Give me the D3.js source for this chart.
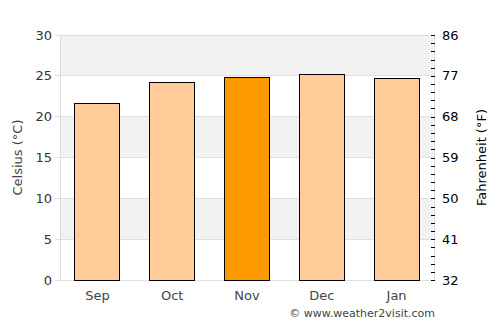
<!DOCTYPE html>
<html>
<head>
<meta charset="utf-8">
<script src="https://cdn.jsdelivr.net/npm/d3@7"></script>
<style>
  body { margin: 0; background: #fff; }
  text { font-family: "DejaVu Sans", sans-serif; }
</style>
</head>
<body>
<div id="chart"></div>
<script>
// data
const months = ["Sep", "Oct", "Nov", "Dec", "Jan"];
const tempsC = [21.6, 24.2, 24.8, 25.2, 24.7];
const highlight = "Nov";
const celsiusTicks = [0, 5, 10, 15, 20, 25, 30];
const fahrenheitTicks = [32, 41, 50, 59, 68, 77, 86];

const width = 500, height = 325;
const margin = { top: 35, right: 66, bottom: 45, left: 60 };
const innerW = width - margin.left - margin.right;
const innerH = height - margin.top - margin.bottom;

const svg = d3.select("#chart").append("svg")
  .attr("width", width).attr("height", height);

const g = svg.append("g")
  .attr("transform", `translate(${margin.left},${margin.top})`);

const x = d3.scaleBand().domain(months).range([0, innerW]).paddingInner(0.4).paddingOuter(0.2);
const y = d3.scaleLinear().domain([0, 30]).range([innerH, 0]);
const yF = d3.scaleLinear().domain([32, 86]).range([innerH, 0]);

// alternating bands
for (let i = 0; i < celsiusTicks.length - 1; i++) {
  if ((celsiusTicks.length - 2 - i) % 2 === 0) {
    g.append("rect")
      .attr("x", 0).attr("width", innerW)
      .attr("y", y(celsiusTicks[i + 1]))
      .attr("height", y(celsiusTicks[i]) - y(celsiusTicks[i + 1]))
      .attr("fill", "#f2f2f2");
  }
}

// gridlines
g.selectAll(".grid").data(celsiusTicks).enter().append("line")
  .attr("x1", -5).attr("x2", innerW)
  .attr("y1", d => y(d)).attr("y2", d => y(d))
  .attr("stroke", "#e0e0e0").attr("stroke-width", 1)
  .attr("shape-rendering", "crispEdges");

// plot border lines
g.append("line").attr("x1", 0).attr("x2", 0).attr("y1", 0).attr("y2", innerH)
  .attr("stroke", "#dddddd").attr("shape-rendering", "crispEdges");
g.append("line").attr("x1", innerW).attr("x2", innerW).attr("y1", 0).attr("y2", innerH)
  .attr("stroke", "#dddddd").attr("shape-rendering", "crispEdges");

// bars
g.selectAll(".bar").data(months).enter().append("rect")
  .attr("x", d => x(d))
  .attr("y", (d, i) => y(tempsC[i]))
  .attr("width", x.bandwidth())
  .attr("height", (d, i) => innerH - y(tempsC[i]))
  .attr("fill", d => d === highlight ? "#ff9900" : "#ffcc99")
  .attr("stroke", "#000").attr("stroke-width", 1)
  .attr("shape-rendering", "crispEdges");

// left axis labels
g.selectAll(".ylab").data(celsiusTicks).enter().append("text")
  .attr("x", -8).attr("y", d => y(d)).attr("dy", "0.35em")
  .attr("text-anchor", "end").attr("font-size", 13).attr("fill", "#333")
  .text(d => d);

// right axis: minor ticks every 1°C equivalent
const minor = d3.range(32, 86.01, 1.8);
g.selectAll(".rtick").data(minor).enter().append("line")
  .attr("x1", innerW - 3).attr("x2", innerW + 1)
  .attr("y1", d => Math.round(yF(d)) + 0.5).attr("y2", d => Math.round(yF(d)) + 0.5)
  .attr("stroke", "#000").attr("stroke-width", 1);

g.selectAll(".flab").data(fahrenheitTicks).enter().append("text")
  .attr("x", innerW + 8).attr("y", d => yF(d)).attr("dy", "0.35em")
  .attr("text-anchor", "start").attr("font-size", 13).attr("fill", "#000")
  .text(d => d);

// x labels
g.selectAll(".xlab").data(months).enter().append("text")
  .attr("x", d => x(d) + x.bandwidth() / 2).attr("y", innerH + 20)
  .attr("text-anchor", "middle").attr("font-size", 13).attr("fill", "#444")
  .text(d => d);

// axis titles
svg.append("text")
  .attr("transform", `translate(22,${margin.top + innerH / 2}) rotate(-90)`)
  .attr("text-anchor", "middle").attr("font-size", 13).attr("fill", "#444")
  .text("Celsius (°C)");
svg.append("text")
  .attr("transform", `translate(486,${margin.top + innerH / 2}) rotate(-90)`)
  .attr("text-anchor", "middle").attr("font-size", 13).attr("fill", "#000")
  .text("Fahrenheit (°F)");

// credit
svg.append("text")
  .attr("x", 435).attr("y", 317)
  .attr("text-anchor", "end").attr("font-size", 11).attr("fill", "#444")
  .text("© www.weather2visit.com");
</script>
</body>
</html>
